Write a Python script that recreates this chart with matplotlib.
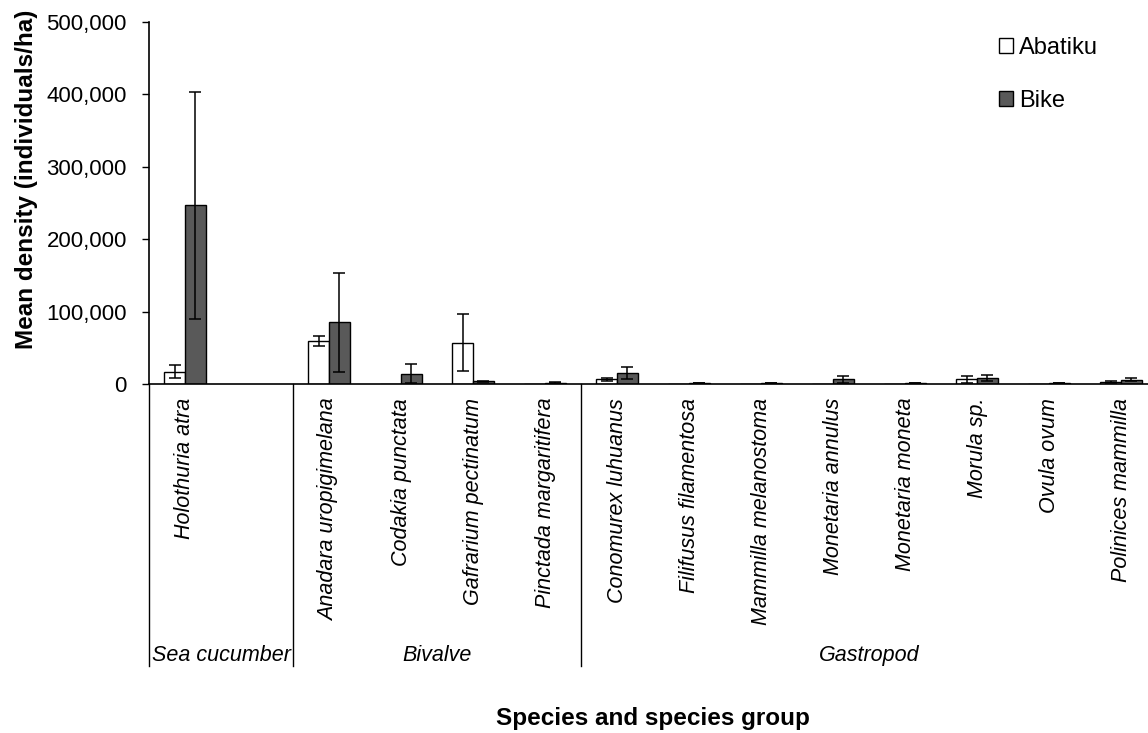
import matplotlib
matplotlib.use("Agg")
import matplotlib.pyplot as plt
from matplotlib.ticker import FuncFormatter
import numpy as np

plt.rcParams['font.family'] = ['Liberation Sans', 'DejaVu Sans']

# data (the blank slot keeps the empty second category of the sea cucumber group)
species = ["Holothuria atra", "",
           "Anadara uropigimelana", "Codakia punctata", "Gafrarium pectinatum", "Pinctada margaritifera",
           "Conomurex luhuanus", "Filifusus filamentosa", "Mammilla melanostoma", "Monetaria annulus",
           "Monetaria moneta", "Morula sp.", "Ovula ovum", "Polinices mammilla"]
groups = ["Sea cucumber", "Bivalve", "Gastropod"]
group_sizes = [2, 4, 8]

nan = np.nan
abatiku = [17000, nan, 59500, 0, 57000, 0, 6400, 0, 0, 0, 0, 6400, 0, 2800]
abatiku_err = [9000, nan, 6500, nan, 39500, nan, 2000, nan, nan, nan, nan, 4600, nan, 1800]
bike = [247000, nan, 85000, 14300, 3600, 1800, 15200, 1500, 1500, 6400, 1500, 8300, 1500, 6000]
bike_err = [157000, nan, 69000, 13000, 800, 400, 8300, 400, 400, 4600, 400, 4600, 400, 2200]

W, H = 1148, 733
fig = plt.figure(figsize=(W / 100, H / 100), dpi=100)
ax = fig.add_axes([149 / W, 1 - 384 / H, 1008 / W, 362 / H])

x = np.arange(len(species))
bw = 0.29
b1 = ax.bar(x - bw / 2, abatiku, bw, color="white", edgecolor="black", linewidth=1, label="Abatiku", zorder=2)
b2 = ax.bar(x + bw / 2, bike, bw, color="#595959", edgecolor="black", linewidth=1, label="Bike", zorder=2)
ax.errorbar(x - bw / 2, abatiku, yerr=abatiku_err, fmt="none", ecolor="black", elinewidth=1.1,
            capsize=4.5, capthick=1.1, zorder=3)
ax.errorbar(x + bw / 2, bike, yerr=bike_err, fmt="none", ecolor="black", elinewidth=1.1,
            capsize=4.5, capthick=1.1, zorder=3)

ax.set_xlim(-0.5, len(species) - 0.5)
ax.set_ylim(0, 500000)
ax.set_yticks(np.arange(0, 500001, 100000))
ax.yaxis.set_major_formatter(FuncFormatter(lambda v, p: f"{int(v):,}"))
ax.tick_params(axis="y", direction="out", length=5, width=1, labelsize=16, pad=11)
ax.tick_params(axis="x", length=0, labelbottom=False)
for s in ["top", "right"]:
    ax.spines[s].set_visible(False)
for s in ["left", "bottom"]:
    ax.spines[s].set_linewidth(1.2)

# species labels
for xi, name in zip(x, species):
    if name:
        ax.text(xi, -0.038, name, transform=ax.get_xaxis_transform(), rotation=90,
                ha="center", va="top", style="italic", fontsize=15.5)

# group labels and separators
tr = ax.get_xaxis_transform()
start = -0.5
for g, n in zip(groups, group_sizes):
    ax.plot([start, start], [0, -0.779], color="black", lw=1, transform=tr, clip_on=False)
    ax.text(start + n / 2, -0.751, g, transform=tr, ha="center", va="center",
            style="italic", fontsize=15.5)
    start += n

fig.text(653 / W, 1 - 718 / H, "Species and species group", ha="center", va="center",
         fontsize=17.5, fontweight="bold")
fig.text(27 / W, 1 - 179 / H, "Mean density (individuals/ha)", ha="center", va="center",
         rotation=90, fontsize=17.5, fontweight="bold")

ax.legend(handles=[b1, b2], loc="upper left", bbox_to_anchor=(999 / W, 1 - 37 / H),
          bbox_transform=fig.transFigure, frameon=False, fontsize=17, handlelength=0.6,
          handleheight=0.6, handletextpad=0.25, labelspacing=1.3, borderaxespad=0, borderpad=0)

fig.savefig("out.png", dpi=100)
